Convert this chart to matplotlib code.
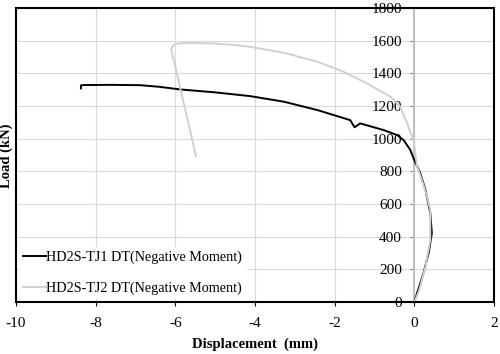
import matplotlib
matplotlib.use("Agg")
import matplotlib.pyplot as plt
from matplotlib.patches import Rectangle

# TJ1 (black) displacement (mm) / load (kN)
tj1_x = [0, 0.07, 0.23, 0.36, 0.44, 0.40, 0.28, 0.15, -0.02, -0.1, -0.27, -0.43,
         -0.77, -1.36, -1.5, -1.61, -2.44, -3.28, -4.12, -5.0, -5.88, -6.4,
         -6.88, -7.6, -8.3, -8.37, -8.37]
tj1_y = [0, 55, 177, 300, 422, 545, 686, 788, 880, 931, 992, 1022,
         1053, 1094, 1070, 1114, 1176, 1227, 1261, 1284, 1302, 1318,
         1328, 1330, 1329, 1327, 1308]

# TJ2 (grey)
tj2_x = [0, 0.11, 0.28, 0.40, 0.40, 0.32, 0.19, 0.07, -0.02, -0.18, -0.35, -0.6,
         -1.19, -1.78, -2.44, -3.28, -4.12, -4.6, -5.05, -5.6, -5.9, -6.02,
         -6.08, -6.1, -5.48]
tj2_y = [0, 63, 216, 380, 563, 645, 747, 829, 992, 1094, 1196, 1257,
         1339, 1411, 1472, 1527, 1563, 1576, 1584, 1586, 1584, 1578,
         1562, 1543, 894]

labels = ["HD2S-TJ1 DT(Negative Moment)", "HD2S-TJ2 DT(Negative Moment)"]
xticks = list(range(-10, 3, 2))
yticks = list(range(0, 1801, 200))

plt.rcParams['font.family'] = ['Liberation Serif', 'DejaVu Serif']
plt.rcParams['axes.unicode_minus'] = False

fig = plt.figure(figsize=(5, 3.54), dpi=100)
ax = fig.add_axes([0.032, 0.147, 0.956, 0.83])

ax.plot(tj1_x, tj1_y, color='black', lw=1.4, label=labels[0], zorder=3)
ax.plot(tj2_x, tj2_y, color='#d0d0d0', lw=1.4, label=labels[1], zorder=3)

ax.set_xlim(-10, 2)
ax.set_ylim(0, 1800)
ax.set_xticks(xticks)
ax.set_yticks(yticks)
ax.grid(True, color='#d9d9d9', lw=0.8)
ax.set_axisbelow(True)

# y axis crosses at x = 0
ax.spines['left'].set_position(('data', 0))
ax.spines['left'].set_color('#bfbfbf')
ax.spines['left'].set_linewidth(1.5)
for s in ['top', 'right', 'bottom']:
    ax.spines[s].set_visible(False)
ax.add_patch(Rectangle((0, 0), 1, 1, transform=ax.transAxes, fill=False,
                       lw=1.5, edgecolor='black', clip_on=False, zorder=4))

ax.tick_params(axis='y', direction='out', length=3, color='#808080',
               labelsize=11, pad=6)
ax.tick_params(axis='x', direction='out', length=3, color='black',
               labelsize=11, pad=8)

ax.set_xlabel('Displacement  (mm)', fontweight='bold', fontsize=10.5, labelpad=5)
fig.text(0.012, 0.56, 'Load (kN)', rotation=90, fontweight='bold',
         fontsize=10.5, ha='center', va='center')

leg = ax.legend(loc='lower left', fontsize=10.2, handlelength=1.6,
                handletextpad=0.05, frameon=True, framealpha=1,
                facecolor='white', edgecolor='none', borderaxespad=0.2,
                borderpad=0.3, labelspacing=1.2)

fig.savefig('out.png', dpi=100)
